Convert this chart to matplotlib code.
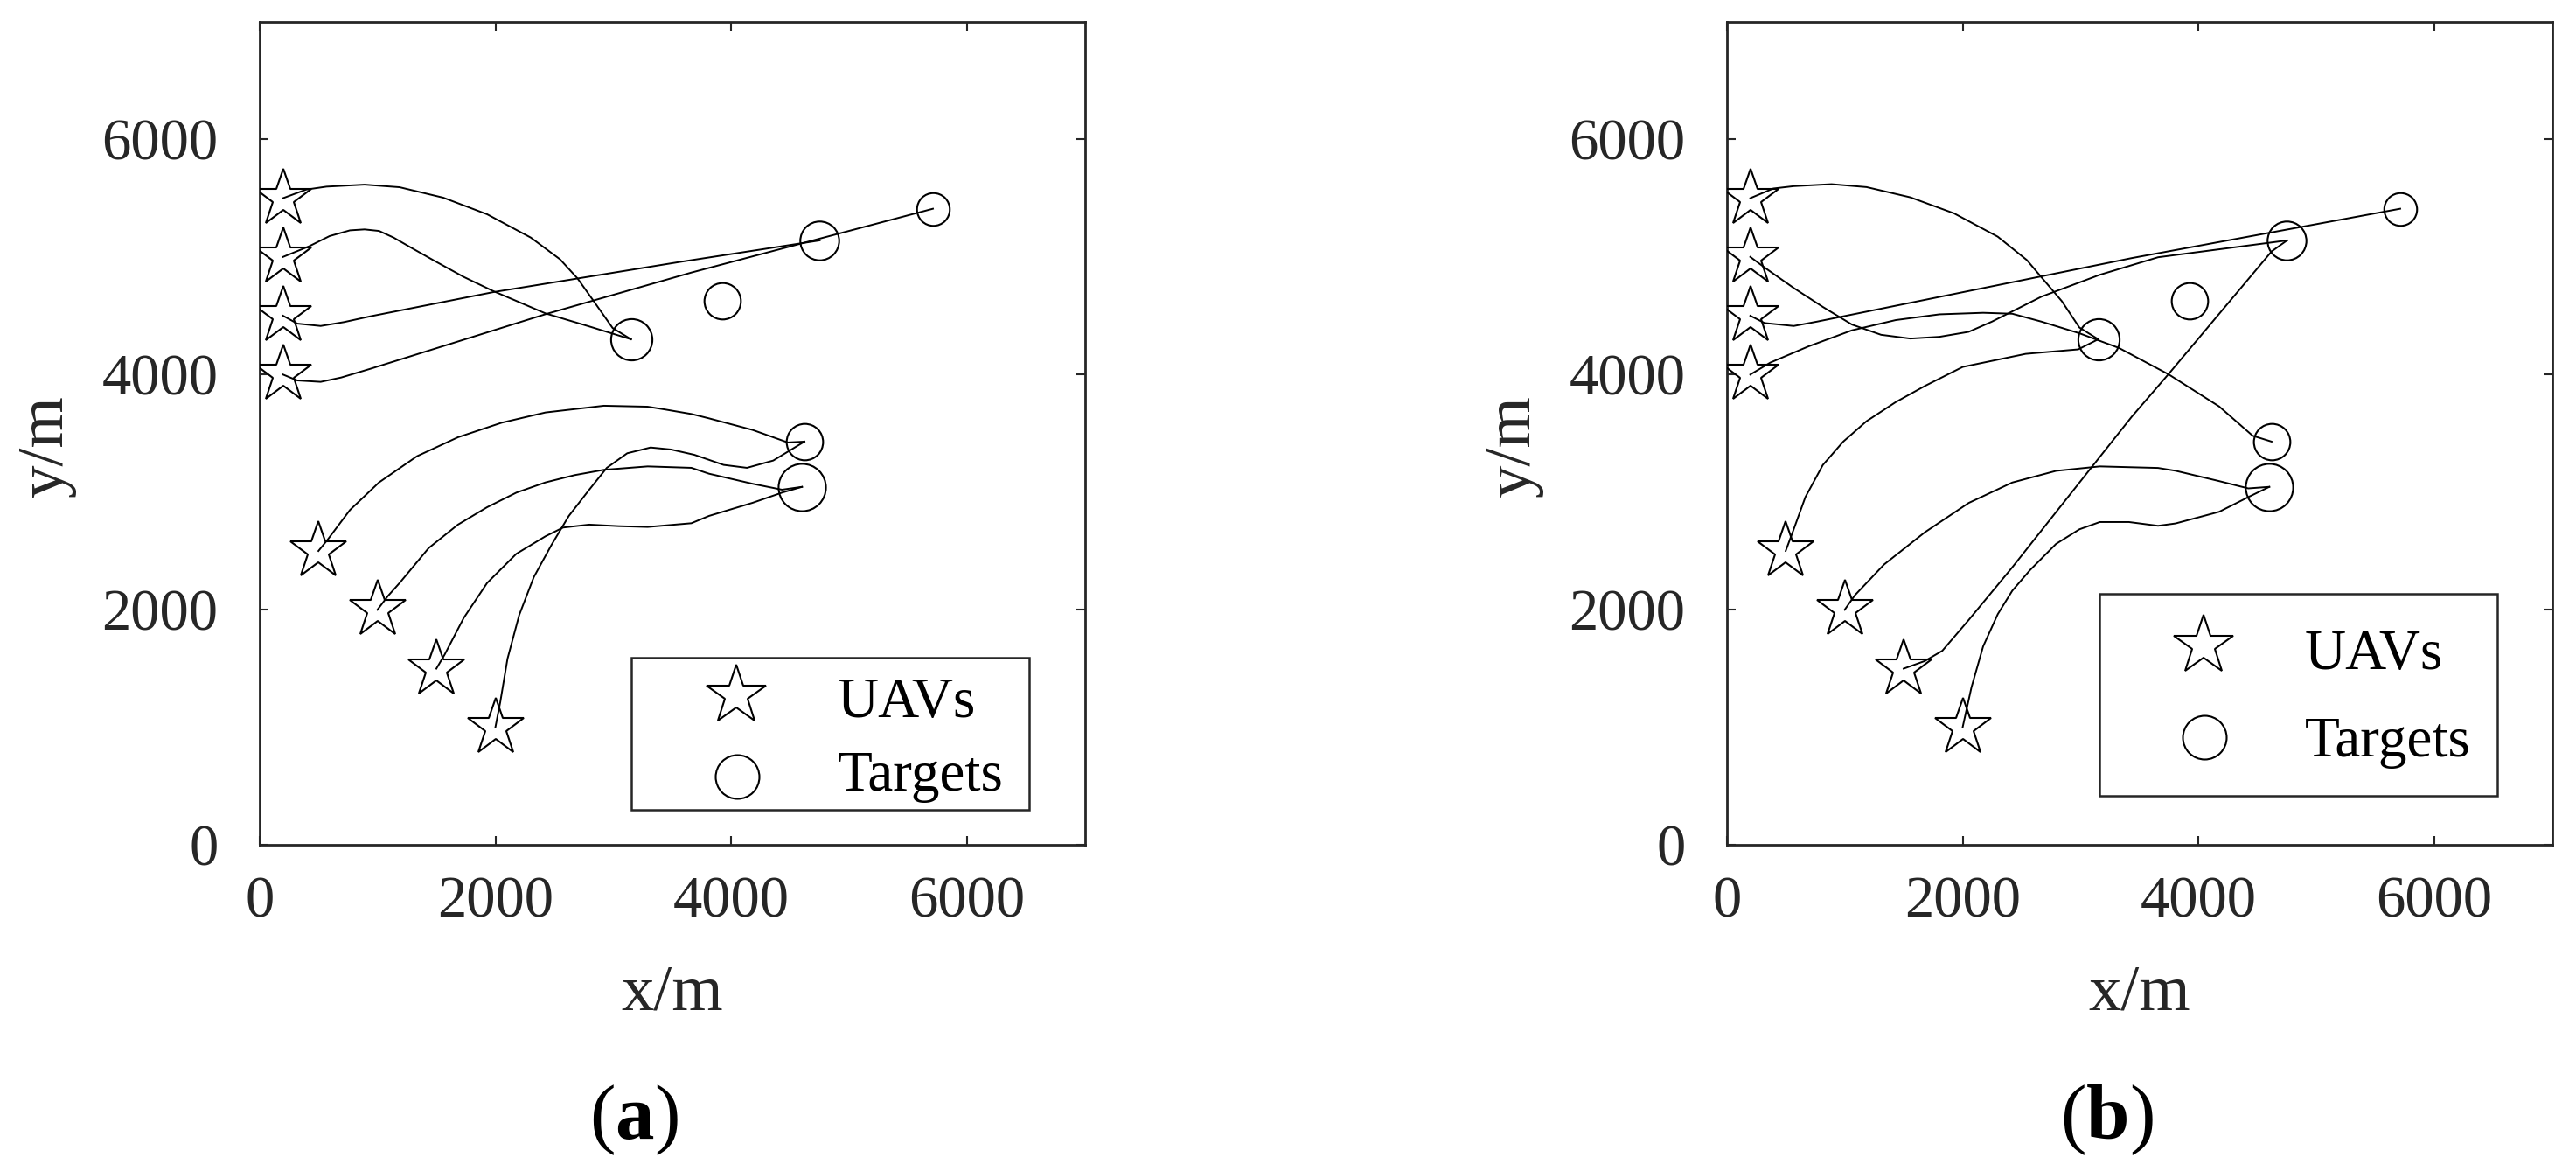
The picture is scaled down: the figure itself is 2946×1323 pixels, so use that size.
import matplotlib
matplotlib.use("Agg")
import matplotlib.pyplot as plt
from matplotlib.patches import Rectangle

plt.rcParams['font.family'] = ['Liberation Serif', 'DejaVu Serif']
plt.rcParams['mathtext.fontset'] = 'custom'
plt.rcParams['mathtext.rm'] = 'Liberation Serif'
plt.rcParams['mathtext.bf'] = 'Liberation Serif:bold'

# ---------------- data ----------------
TICKS = [0, 2000, 4000, 6000]
UAV_X = [200, 200, 200, 200, 500, 1000, 1500, 2000]
UAV_Y = [5500, 5000, 4500, 4000, 2500, 2000, 1500, 1000]
TGT_X = [3150, 3920, 4750, 5710, 4620, 4600]
TGT_Y = [4300, 4630, 5140, 5410, 3430, 3045]
TGT_SIZE = [34, 30, 32, 27, 30, 39]
LEGEND_LABELS = ["UAVs", "Targets"]

# panel (a) trajectories (x list, y list)
a1_x = [200, 396, 569, 891, 1188, 1559, 1930, 2301, 2549, 2697, 2846, 2994, 3150]
a1_y = [5500, 5573, 5598, 5615, 5593, 5504, 5363, 5164, 4979, 4817, 4607, 4396, 4300]
a2_x = [200, 420, 594, 767, 891, 1014, 1138, 1287, 1485, 1732, 1979, 2425, 2796, 3150]
a2_y = [5000, 5090, 5177, 5226, 5234, 5221, 5164, 5078, 4966, 4830, 4711, 4520, 4409, 4300]
a3_x = [200, 321, 519, 717, 940, 1979, 3550, 4750]
a3_y = [4500, 4433, 4413, 4446, 4495, 4700, 4955, 5140]
a4_x = [200, 321, 519, 693, 940, 2425, 3662, 5710]
a4_y = [4000, 3950, 3938, 3975, 4049, 4513, 4867, 5410]
a5_x = [500, 581, 767, 1014, 1336, 1683, 2054, 2425, 2920, 3291, 3440, 3662, 3811, 4182, 4479, 4620]
a5_y = [2500, 2600, 2848, 3083, 3306, 3467, 3591, 3678, 3735, 3727, 3703, 3665, 3628, 3529, 3423, 3430]
a6_x = [1000, 1089, 1188, 1435, 1683, 1930, 2178, 2425, 2672, 2920, 3291, 3662, 3811, 4182, 4430, 4600]
a6_y = [2000, 2117, 2228, 2525, 2724, 2872, 2996, 3083, 3145, 3190, 3219, 3207, 3157, 3071, 3021, 3045]
a7_x = [1500, 1571, 1732, 1930, 2178, 2425, 2574, 2796, 3044, 3291, 3662, 3811, 4182, 4430, 4600]
a7_y = [1500, 1621, 1931, 2228, 2476, 2625, 2699, 2724, 2711, 2704, 2736, 2798, 2910, 2996, 3045]
a8_x = [2000, 2041, 2103, 2202, 2326, 2475, 2623, 2796, 2945, 3118, 3316, 3489, 3687, 3935, 4133, 4356, 4620]
a8_y = [1000, 1212, 1584, 1955, 2278, 2550, 2798, 3021, 3207, 3331, 3380, 3363, 3318, 3232, 3207, 3269, 3430]

# panel (b) trajectories
b1_x = [200, 395, 568, 889, 1186, 1557, 1927, 2298, 2545, 2693, 2841, 2990, 3150]
b1_y = [5500, 5582, 5602, 5619, 5594, 5507, 5371, 5172, 4973, 4798, 4624, 4400, 4300]
b2_x = [200, 321, 568, 815, 1062, 1309, 1557, 1804, 2051, 2249, 2421, 2668, 3163, 3657, 4750]
b2_y = [5000, 4910, 4736, 4575, 4425, 4338, 4306, 4321, 4363, 4450, 4537, 4662, 4848, 4997, 5140]
b3_x = [200, 321, 568, 766, 3434, 5710]
b3_y = [4500, 4438, 4413, 4450, 4990, 5410]
b4_x = [200, 370, 692, 1062, 1433, 1804, 2174, 2421, 2668, 2990, 3326, 3746, 4175, 4459, 4620]
b4_y = [4000, 4102, 4239, 4376, 4463, 4512, 4525, 4517, 4450, 4351, 4226, 4002, 3729, 3480, 3430]
b5_x = [500, 568, 667, 815, 988, 1186, 1433, 1680, 2001, 2535, 2980, 3150]
b5_y = [2500, 2684, 2958, 3231, 3430, 3604, 3766, 3903, 4065, 4176, 4214, 4300]
b6_x = [1000, 1087, 1334, 1680, 2051, 2421, 2792, 3163, 3657, 3805, 4175, 4422, 4600]
b6_y = [2000, 2124, 2385, 2659, 2908, 3082, 3181, 3219, 3206, 3182, 3094, 3032, 3045]
b7_x = [1500, 1680, 1828, 2051, 2421, 3089, 3434, 3755, 4620, 4750]
b7_y = [1500, 1565, 1652, 1913, 2361, 3206, 3642, 4015, 5047, 5140]
b8_x = [2000, 2075, 2174, 2298, 2421, 2570, 2792, 2990, 3163, 3410, 3657, 3805, 4175, 4422, 4600]
b8_y = [1000, 1341, 1689, 1963, 2162, 2336, 2560, 2684, 2746, 2746, 2714, 2734, 2833, 2958, 3045]

PATHS_A = [(a1_x, a1_y), (a2_x, a2_y), (a3_x, a3_y), (a4_x, a4_y),
           (a5_x, a5_y), (a6_x, a6_y), (a7_x, a7_y), (a8_x, a8_y)]
PATHS_B = [(b1_x, b1_y), (b2_x, b2_y), (b3_x, b3_y), (b4_x, b4_y),
           (b5_x, b5_y), (b6_x, b6_y), (b7_x, b7_y), (b8_x, b8_y)]

# ---------------- style ----------------
W, H = 2946, 1323
AX_COL = '#262626'
STAR_MS = 49
LEG_FS = 47
TICK_FS = 48
LABEL_FS = 54
PANEL_FS = 64

fig = plt.figure(figsize=(W / 100, H / 100), dpi=100)


def make_axes(left_px):
    return fig.add_axes([left_px / W, 1 - 966.3 / H, 944.3 / W, 941.5 / H])


def draw_panel(ax, paths, leg_box, leg_rows, panel_label, label_x_px):
    for xs, ys in paths:
        ax.plot(xs, ys, color='k', lw=1.4, zorder=2, solid_joinstyle='round')
    ax.plot(UAV_X, UAV_Y, ls='none', marker='*', ms=STAR_MS, mfc='none',
            mec='k', mew=1.5, zorder=3)
    for x, y, s in zip(TGT_X, TGT_Y, TGT_SIZE):
        ax.plot([x], [y], ls='none', marker='o', ms=s, mfc='none',
                mec='k', mew=1.5, zorder=3)
    ax.set_xlim(0, 7000)
    ax.set_ylim(0, 7000)
    ax.set_xticks(TICKS)
    ax.set_yticks(TICKS)
    ax.tick_params(direction='in', top=True, right=True, length=7, width=1.5,
                   color=AX_COL, labelcolor=AX_COL, labelsize=TICK_FS)
    ax.tick_params(axis='x', pad=25)
    ax.tick_params(axis='y', pad=34)
    for sp in ax.spines.values():
        sp.set_linewidth(2.0)
        sp.set_color(AX_COL)
    ax.set_xlabel('x/m', fontsize=LABEL_FS, color=AX_COL)
    ax.set_ylabel('y/m', fontsize=LABEL_FS, color=AX_COL)
    ax.xaxis.label.set_va('center')
    ax.xaxis.set_label_coords(0.5, -0.181)
    ax.yaxis.label.set_va('center')
    ax.yaxis.set_label_coords(-0.258, 0.484)

    # legend box
    x0, y0, w, h = leg_box
    ax.add_patch(Rectangle((x0, y0), w, h, transform=ax.transAxes,
                           facecolor='white', edgecolor=AX_COL, lw=1.8,
                           zorder=5, clip_on=False))
    (sy, sty), (cy, cty) = leg_rows
    ax.plot([0.577], [sy], transform=ax.transAxes, ls='none', marker='*',
            ms=STAR_MS + 2, mfc='none', mec='k', mew=1.5, zorder=6, clip_on=False)
    ax.plot([0.579], [cy], transform=ax.transAxes, ls='none', marker='o',
            ms=36, mfc='none', mec='k', mew=1.5, zorder=6, clip_on=False)
    ax.text(0.700, sty, LEGEND_LABELS[0], transform=ax.transAxes,
            fontsize=LEG_FS, va='baseline', ha='left', zorder=7)
    ax.text(0.700, cty, LEGEND_LABELS[1], transform=ax.transAxes,
            fontsize=LEG_FS, va='baseline', ha='left', zorder=7)

    fig.text(label_x_px / W, 1 - 1281 / H, panel_label, fontsize=PANEL_FS,
             ha='center', va='center', color='k')


ax_a = make_axes(296.7)
ax_b = make_axes(1974.7)

draw_panel(ax_a, PATHS_A, (0.450, 0.0428, 0.482, 0.185),
           ((0.182, 0.155), (0.083, 0.066)), r'($\mathbf{a}$)', 725)
draw_panel(ax_b, PATHS_B, (0.451, 0.0598, 0.482, 0.245),
           ((0.242, 0.214), (0.131, 0.108)), r'($\mathbf{b}$)', 2409)

fig.savefig('out.png', dpi=100, facecolor='white')
